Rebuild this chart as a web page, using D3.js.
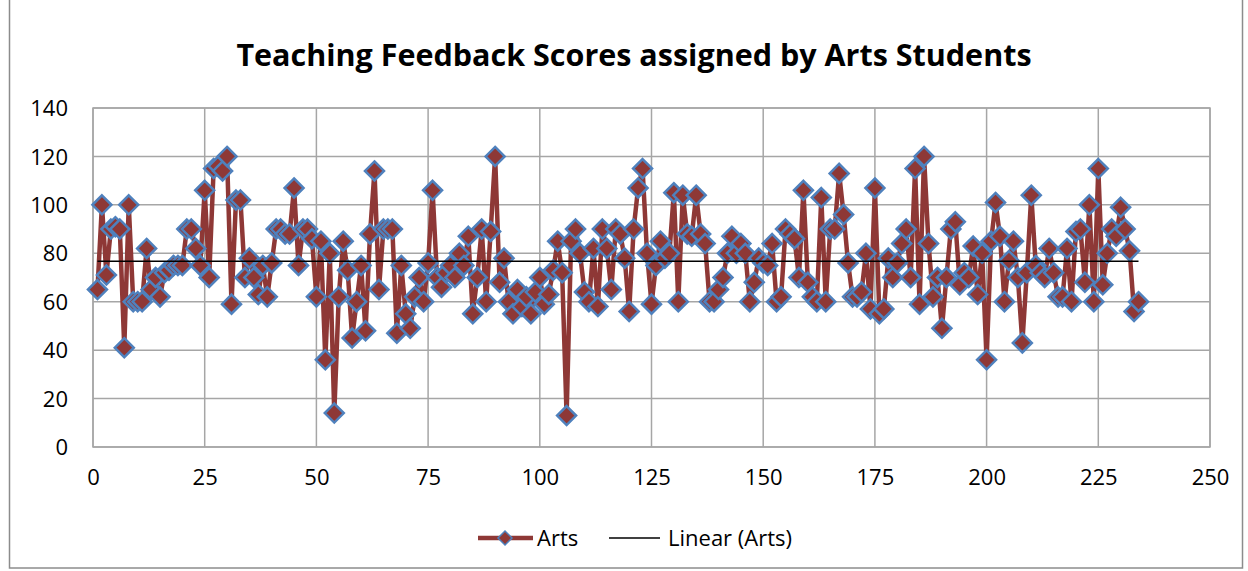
<!DOCTYPE html>
<html><head><meta charset="utf-8">
<script src="https://cdn.jsdelivr.net/npm/d3@7"></script>
<style>body{margin:0;background:#fff}svg{display:block}</style>
</head><body><svg id="c" width="1248" height="571"></svg>
<script>
const title = "Teaching Feedback Scores assigned by Arts Students";
const seriesName = "Arts";
const trendName = "Linear (Arts)";
const scores = [65,100,71,90,91,90,41,100,60,60,60,82,65,70,62,72,73,75,75,75,
90,90,82,75,106,70,115,116,114,120,59,102,102,70,78,70,63,75,62,76,
90,90,88,88,107,75,90,90,86,62,85,36,80,14,62,85,73,45,60,75,
48,88,114,65,90,90,90,47,75,55,49,62,70,60,76,106,70,66,72,75,
70,80,75,87,55,70,90,60,89,120,68,78,60,55,65,58,62,55,64,70,
59,63,73,85,72,13,85,90,80,64,60,82,58,90,82,65,90,88,78,56,
90,107,115,80,59,75,85,78,80,105,60,104,88,87,104,88,84,60,60,65,
70,80,87,80,84,80,60,68,78,76,75,84,60,62,90,88,86,70,106,68,
62,60,103,60,90,90,113,96,76,62,62,64,80,57,107,55,57,78,70,76,
84,90,70,115,59,120,84,62,70,49,70,90,93,67,72,70,83,63,80,36,
85,101,87,60,77,85,70,43,72,104,75,72,70,82,72,62,62,82,60,89,
90,68,100,60,115,67,80,90,87,99,90,81,56,60];
const xTicks = [0,25,50,75,100,125,150,175,200,225,250];
const yTicks = [0,20,40,60,80,100,120,140];

const data = scores.map((v,i)=>({x:i+1,y:v}));
const svg = d3.select("#c");
const L=93,R=1210,T=108,B=447;
const x = d3.scaleLinear().domain([0,250]).range([L,R]);
const y = d3.scaleLinear().domain([0,140]).range([B,T]);
const font = "'Open Sans', 'Liberation Sans', sans-serif";

// outer border
svg.append("rect").attr("x",9.5).attr("y",-2).attr("width",1233).attr("height",570)
  .attr("fill","none").attr("stroke","#8c8c8c").attr("stroke-width",1.5);

// title
svg.append("text").attr("x",634).attr("y",66).attr("text-anchor","middle")
  .attr("font-family",font).attr("font-weight","bold").attr("font-size",30.5)
  .attr("fill","#000").text(title);

// gridlines
svg.append("g").selectAll("line").data(yTicks).join("line")
  .attr("x1",L).attr("x2",R).attr("y1",d=>y(d)).attr("y2",d=>y(d))
  .attr("stroke","#a6a6a6").attr("stroke-width",1.5);
svg.append("g").selectAll("line").data(xTicks).join("line")
  .attr("y1",T).attr("y2",B).attr("x1",d=>x(d)).attr("x2",d=>x(d))
  .attr("stroke","#a6a6a6").attr("stroke-width",1.5);
svg.append("rect").attr("x",L).attr("y",T).attr("width",R-L).attr("height",B-T)
  .attr("fill","none").attr("stroke","#a6a6a6").attr("stroke-width",1.5);

// axes
const yAxis = svg.append("g").attr("transform",`translate(${L},0)`)
  .call(d3.axisLeft(y).tickValues(yTicks).tickSize(0).tickPadding(25));
const xAxis = svg.append("g").attr("transform",`translate(0,${B})`)
  .call(d3.axisBottom(x).tickValues(xTicks).tickSize(0).tickPadding(22));
[yAxis,xAxis].forEach(a=>{a.select(".domain").remove();
  a.selectAll("text").attr("font-family",font).attr("font-size",22).attr("fill","#000");});
yAxis.selectAll("text").attr("dy","0.35em");

// series line
svg.append("path").datum(data).attr("fill","none").attr("stroke","#8e3836")
  .attr("stroke-width",4.5).attr("stroke-linejoin","round")
  .attr("d",d3.line().x(d=>x(d.x)).y(d=>y(d.y)));

// markers
const diamond = "M0,-9.5L9.5,0L0,9.5L-9.5,0Z";
svg.append("g").selectAll("path").data(data).join("path")
  .attr("transform",d=>`translate(${x(d.x)},${y(d.y)})`).attr("d",diamond)
  .attr("fill","#8e3836").attr("stroke","#4f81bd").attr("stroke-width",2.5);

// linear trend
const n=data.length, mx=d3.mean(data,d=>d.x), my=d3.mean(data,d=>d.y);
const slope=d3.sum(data,d=>(d.x-mx)*(d.y-my))/d3.sum(data,d=>(d.x-mx)**2);
const icpt=my-slope*mx;
const x0=1, x1=n;
svg.append("line").attr("x1",x(x0)).attr("x2",x(x1))
  .attr("y1",y(icpt+slope*x0)).attr("y2",y(icpt+slope*x1))
  .attr("stroke","#000").attr("stroke-width",1.5);

// legend
const ly=538;
svg.append("line").attr("x1",478).attr("x2",533).attr("y1",ly).attr("y2",ly)
  .attr("stroke","#8e3836").attr("stroke-width",4.5);
svg.append("path").attr("transform",`translate(505,${ly})`).attr("d","M0,-7L7,0L0,7L-7,0Z")
  .attr("fill","#8e3836").attr("stroke","#4f81bd").attr("stroke-width",1.5);
svg.append("text").attr("x",537).attr("y",ly).attr("dy","0.35em")
  .attr("font-family",font).attr("font-size",22).text(seriesName);
svg.append("line").attr("x1",609).attr("x2",660).attr("y1",ly).attr("y2",ly)
  .attr("stroke","#000").attr("stroke-width",1.5);
svg.append("text").attr("x",668).attr("y",ly).attr("dy","0.35em")
  .attr("font-family",font).attr("font-size",22).text(trendName);
</script></body></html>
